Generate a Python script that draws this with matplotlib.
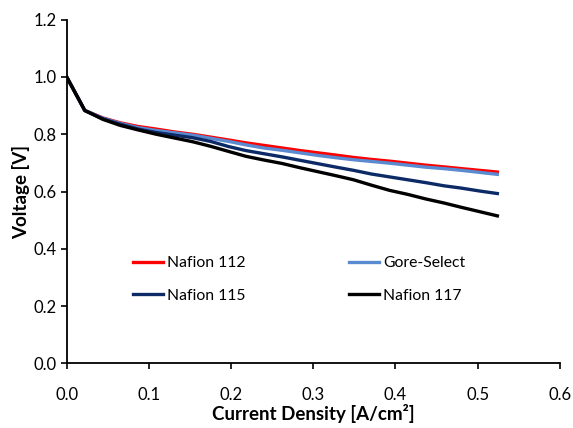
import matplotlib
matplotlib.use("Agg")
import matplotlib.pyplot as plt

plt.rcParams['font.family'] = ['Lato', 'DejaVu Sans']

current = [0.0, 0.022, 0.044, 0.065, 0.087, 0.109, 0.131, 0.153, 0.175, 0.197,
           0.218, 0.240, 0.262, 0.284, 0.306, 0.328, 0.349, 0.371, 0.393, 0.415,
           0.437, 0.459, 0.480, 0.502, 0.524]

nafion112 = [1.0, 0.883, 0.857, 0.840, 0.827, 0.818, 0.808, 0.800, 0.790, 0.780,
             0.770, 0.761, 0.752, 0.743, 0.735, 0.727, 0.719, 0.712, 0.706, 0.699,
             0.692, 0.686, 0.680, 0.674, 0.668]
gore_select = [1.0, 0.883, 0.856, 0.838, 0.823, 0.813, 0.805, 0.797, 0.786, 0.775,
               0.763, 0.752, 0.744, 0.735, 0.726, 0.718, 0.711, 0.705, 0.699, 0.692,
               0.685, 0.680, 0.674, 0.667, 0.660]
nafion115 = [1.0, 0.883, 0.854, 0.835, 0.818, 0.806, 0.797, 0.788, 0.775, 0.757,
             0.743, 0.732, 0.721, 0.709, 0.697, 0.685, 0.674, 0.661, 0.651, 0.641,
             0.631, 0.620, 0.612, 0.602, 0.593]
nafion117 = [1.0, 0.883, 0.852, 0.831, 0.815, 0.800, 0.787, 0.774, 0.758, 0.740,
             0.723, 0.710, 0.698, 0.683, 0.669, 0.655, 0.641, 0.622, 0.604, 0.590,
             0.574, 0.560, 0.545, 0.530, 0.515]

series = [
    ("Nafion 112", nafion112, "#FF0000"),
    ("Gore-Select", gore_select, "#5A8AD0"),
    ("Nafion 115", nafion115, "#0C2A66"),
    ("Nafion 117", nafion117, "#000000"),
]

x_ticks = [0.0, 0.1, 0.2, 0.3, 0.4, 0.5, 0.6]
y_ticks = [0.0, 0.2, 0.4, 0.6, 0.8, 1.0, 1.2]

fig = plt.figure(figsize=(5.73, 4.28), dpi=100)
ax = fig.add_axes([0.1164, 0.151, 0.977 - 0.1164, 0.954 - 0.151])

handles = {}
for name, vals, col in series:
    h, = ax.plot(current, vals, color=col, lw=2.4, label=name, solid_joinstyle='round')
    handles[name] = h

ax.set_xlim(0, 0.6)
ax.set_ylim(0, 1.2)
ax.set_xticks(x_ticks)
ax.set_yticks(y_ticks)
ax.set_xticklabels([f"{v:.1f}" for v in x_ticks])
ax.set_yticklabels([f"{v:.1f}" for v in y_ticks])
ax.tick_params(direction='out', length=4, width=1.2, labelsize=12, colors='black', pad=3)
ax.tick_params(axis='x', pad=13)
for s in ['top', 'right']:
    ax.spines[s].set_visible(False)
for s in ['left', 'bottom']:
    ax.spines[s].set_linewidth(1.3)
    ax.spines[s].set_color('black')

ax.set_xlabel("Current Density [A/cm²]", fontsize=13.5, fontweight='bold', labelpad=1)
ax.set_ylabel("Voltage [V]", fontsize=13.5, fontweight='bold', labelpad=3)

order = ["Nafion 112", "Nafion 115", "Gore-Select", "Nafion 117"]
leg = ax.legend([handles[n] for n in order], order,
                ncol=2, loc='upper left', bbox_to_anchor=(133 / 573, 1 - 256 / 428),
                bbox_transform=fig.transFigure, frameon=False, fontsize=11.3,
                handlelength=1.91, handletextpad=0.25, columnspacing=6.6,
                labelspacing=1.2, borderpad=0, borderaxespad=0)

fig.savefig("out.png", dpi=100)
